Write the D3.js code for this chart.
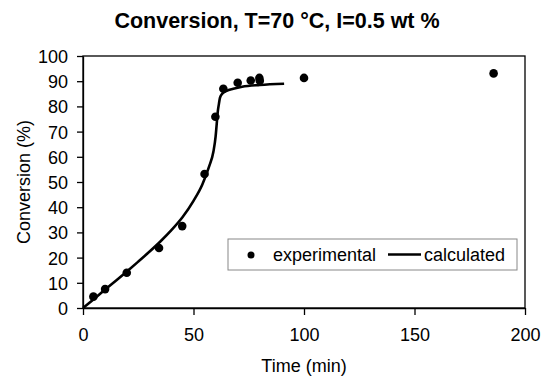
<!DOCTYPE html>
<html>
<head>
<meta charset="utf-8">
<script src="https://cdn.jsdelivr.net/npm/d3@7"></script>
<style>
  body { margin: 0; background: #fff; }
  svg text { font-family: "Liberation Sans", Arial, sans-serif; fill: #000; }
</style>
</head>
<body>
<div id="chart"></div>
<script>
// experimental points (time in min, conversion in %)
const expTime = [4.7, 10, 19.8, 34.4, 44.9, 55, 59.9, 63.5, 70, 75.9, 79.8, 80, 100, 185.8];
const expConv = [4.5, 7.5, 14.0, 23.8, 32.5, 53.2, 75.9, 87.0, 89.4, 90.3, 91.3, 90.2, 91.3, 93.1];

// calculated curve
const calcTime = [0, 5, 10, 15, 20, 25, 30, 35, 40, 45, 50, 54, 57, 59, 60, 60.5, 61, 61.5, 62, 63, 65, 68, 72, 80, 91];
const calcConv = [0, 3.6, 7.3, 10.9, 14.6, 18.4, 22.3, 26.4, 30.9, 36, 42.5, 49, 56, 62, 68, 73, 78, 81, 83.5, 85, 86.2, 87, 87.8, 88.5, 89];

const xTicks = [0, 50, 100, 150, 200];
const yTicks = [0, 10, 20, 30, 40, 50, 60, 70, 80, 90, 100];

const width = 543, height = 376;
const margin = { top: 56, right: 18, bottom: 68, left: 83 };
const w = width - margin.left - margin.right;
const h = height - margin.top - margin.bottom;

const svg = d3.select('#chart').append('svg')
  .attr('width', width)
  .attr('height', height);

const g = svg.append('g').attr('transform', `translate(${margin.left},${margin.top})`);

const x = d3.scaleLinear().domain([0, 200]).range([0, w]);
const y = d3.scaleLinear().domain([0, 100]).range([h, 0]);

// plot frame
g.append('rect')
  .attr('width', w).attr('height', h)
  .attr('fill', 'none').attr('stroke', '#000').attr('stroke-width', 1.3);

const xAxis = g.append('g')
  .attr('transform', `translate(0,${h})`)
  .call(d3.axisBottom(x).tickValues(xTicks).tickSize(7).tickPadding(13).tickSizeOuter(0));
const yAxis = g.append('g')
  .call(d3.axisLeft(y).tickValues(yTicks).tickSize(6).tickPadding(9).tickSizeOuter(0));

[xAxis, yAxis].forEach(a => {
  a.select('.domain').attr('stroke', '#000').attr('stroke-width', 1.3);
  a.selectAll('.tick line').attr('stroke', '#000').attr('stroke-width', 1.3);
  a.selectAll('.tick text')
    .attr('font-size', 18)
    .attr('font-family', '"Liberation Sans", Arial, sans-serif')
    .attr('fill', '#000');
});
yAxis.selectAll('.tick text').attr('dy', '0.36em');

// calculated line
const calc = calcTime.map((t, i) => [t, calcConv[i]]);
g.append('path')
  .datum(calc)
  .attr('fill', 'none')
  .attr('stroke', '#000')
  .attr('stroke-width', 2.6)
  .attr('d', d3.line().x(d => x(d[0])).y(d => y(d[1])).curve(d3.curveMonotoneX));

// experimental points
g.selectAll('.pt')
  .data(expTime.map((t, i) => [t, expConv[i]]))
  .enter().append('circle')
  .attr('class', 'pt')
  .attr('cx', d => x(d[0]))
  .attr('cy', d => y(d[1]))
  .attr('r', 4.3)
  .attr('fill', '#000');

// legend
const lg = svg.append('g').attr('transform', 'translate(228,239)');
lg.append('rect')
  .attr('width', 289).attr('height', 31)
  .attr('fill', '#fff').attr('stroke', '#888').attr('stroke-width', 1);
lg.append('circle').attr('cx', 23).attr('cy', 16).attr('r', 3.5).attr('fill', '#000');
lg.append('text').attr('x', 45).attr('y', 22).attr('font-size', 18).text('experimental');
lg.append('line').attr('x1', 160).attr('x2', 193).attr('y1', 15.5).attr('y2', 15.5)
  .attr('stroke', '#000').attr('stroke-width', 2.6);
lg.append('text').attr('x', 196).attr('y', 22).attr('font-size', 18).text('calculated');

// titles
svg.append('text')
  .attr('x', 277).attr('y', 28)
  .attr('text-anchor', 'middle')
  .attr('font-size', 21.5).attr('font-weight', 'bold')
  .text('Conversion, T=70 °C, I=0.5 wt %');

svg.append('text')
  .attr('x', margin.left + w / 2).attr('y', 372)
  .attr('text-anchor', 'middle')
  .attr('font-size', 18)
  .text('Time (min)');

svg.append('text')
  .attr('transform', `translate(30,${margin.top + h / 2}) rotate(-90)`)
  .attr('text-anchor', 'middle')
  .attr('font-size', 18)
  .text('Conversion (%)');
</script>
</body>
</html>
